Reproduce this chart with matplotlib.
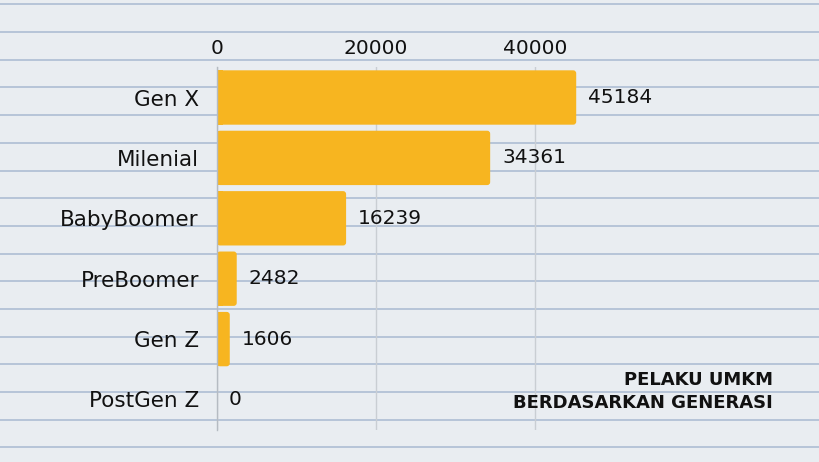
import numpy as np
import matplotlib
matplotlib.use("Agg")
import matplotlib.pyplot as plt
from matplotlib.patches import FancyBboxPatch, Rectangle

# data
generations = ["Gen X", "Milenial", "BabyBoomer", "PreBoomer", "Gen Z", "PostGen Z"]
pelaku = [45184, 34361, 16239, 2482, 1606, 0]
x_ticks = [0, 20000, 40000]
title_lines = ["PELAKU UMKM", "BERDASARKAN GENERASI"]

W, H = 820, 462
bar_color = "#F7B520"
paper = "#E9EDF1"
rule = "#A9BAD1"

fig = plt.figure(figsize=(W / 100, H / 100), dpi=100)
fig.patch.set_facecolor(paper)

# notebook paper background
bg = fig.add_axes([0, 0, 1, 1], zorder=-1)
bg.set_xlim(0, W)
bg.set_ylim(H, 0)
bg.axis("off")
for y in np.round(np.arange(3.3, H, 27.7)):
    bg.axhline(y + 0.5, color=rule, lw=1.1)

ax = fig.add_axes([217 / W, 1 - 429.7 / H, (773.5 - 217) / W, (429.7 - 67.3) / H])
ax.patch.set_alpha(0)
ax.set_ylim(len(generations) - 0.5, -0.5)
ax.set_xlim(0, 70000)

ypos = np.arange(len(generations))
bars = ax.barh(ypos, pelaku, height=0.9, color=bar_color, zorder=3)

# round the outer corners of the bars (about 3 px)
px_x = 70000 / 556.5
px_y = 1 / 60.4
r = 3 * px_x
for b in bars:
    x0, y0, w, h = b.get_x(), b.get_y(), b.get_width(), b.get_height()
    if w <= 0:
        continue
    b.set_visible(False)
    rr = min(r, w / 2)
    ax.add_patch(FancyBboxPatch((x0, y0), w, h,
                                boxstyle=f"round,pad=0,rounding_size={rr}",
                                mutation_aspect=px_y / px_x,
                                fc=bar_color, ec="none", zorder=3))
    # keep the corners at the axis square
    ax.add_patch(Rectangle((x0, y0), min(2 * rr, w / 2), h,
                           fc=bar_color, ec="none", zorder=3))

for b, v in zip(bars, pelaku):
    ax.annotate(str(v), (b.get_width(), b.get_y() + b.get_height() / 2),
                xytext=(8.5, 0), textcoords="offset points",
                va="center", ha="left", fontsize=14.5, color="#111111")

ax.set_yticks(ypos)
ax.set_yticklabels(generations, fontsize=15.5, color="#111111")
ax.xaxis.tick_top()
ax.set_xticks(x_ticks)
ax.set_xticklabels([str(t) for t in x_ticks], fontsize=14.5, color="#111111")
ax.tick_params(axis="y", length=0, pad=13)
ax.tick_params(axis="x", length=0, pad=7)

for s in ["top", "right", "bottom"]:
    ax.spines[s].set_visible(False)
ax.spines["left"].set_color("#B5BBC2")
ax.spines["left"].set_linewidth(1.0)
ax.spines["left"].set_zorder(4)

ax.grid(axis="x", color="#C9CED3", lw=1.0, zorder=1)
ax.set_axisbelow(True)

fig.text(773 / W, 1 - 380 / H, title_lines[0], ha="right", va="center",
         fontsize=13, fontweight="bold", color="#111111")
fig.text(773 / W, 1 - 403 / H, title_lines[1], ha="right", va="center",
         fontsize=13, fontweight="bold", color="#111111")

fig.savefig("out.png", dpi=100, facecolor=paper)
